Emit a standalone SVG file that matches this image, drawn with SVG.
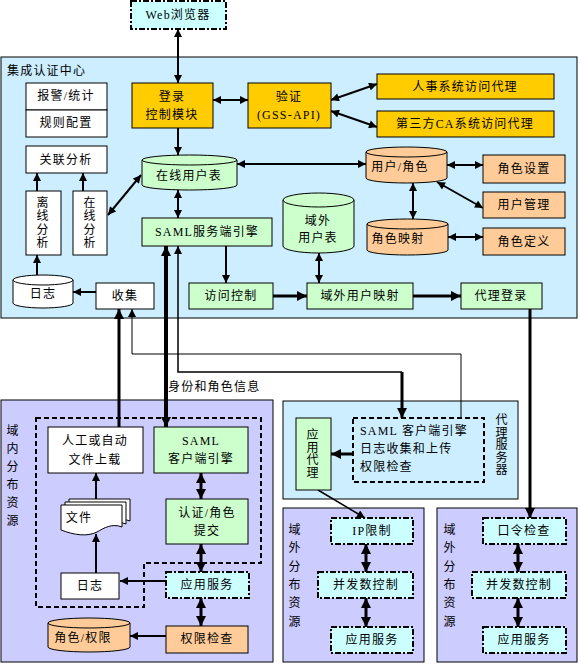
<svg xmlns="http://www.w3.org/2000/svg" width="581" height="665" viewBox="0 0 581 665">
<style>
.t{font-family:"Liberation Serif","Noto Sans CJK SC",serif;font-size:12px;letter-spacing:1.2px;text-anchor:middle;dominant-baseline:central;fill:#000}
.s{text-anchor:start}
.b{stroke:#000;stroke-width:1}
.gold{fill:#ffcc00}
.peach{fill:#ffcc99}
.green{fill:#ccffcc}
.cyan{fill:#ccffff}
.white{fill:#fff}
.dd{stroke:#000;stroke-width:2;stroke-dasharray:6,2,2,2}
.dash{fill:none;stroke:#000;stroke-width:2;stroke-dasharray:5,3}
.c{fill:none;stroke:#000;stroke-width:2}
.c3{fill:none;stroke:#000;stroke-width:3}
.c4{fill:none;stroke:#000;stroke-width:4}
.c1{fill:none;stroke:#000;stroke-width:1}
.c15{fill:none;stroke:#000;stroke-width:1.5}
.e{marker-end:url(#a)}
.bo{marker-start:url(#a);marker-end:url(#a)}
.eB{marker-end:url(#A)}
.boB{marker-start:url(#A);marker-end:url(#A)}
</style>
<defs>
<marker id="a" viewBox="0 0 10 10" refX="10" refY="5" markerWidth="9" markerHeight="8" markerUnits="userSpaceOnUse" orient="auto-start-reverse"><path d="M0,0 L10,5 L0,10 z" fill="#000"/></marker>
<marker id="A" viewBox="0 0 10 10" refX="10" refY="5" markerWidth="10" markerHeight="10" markerUnits="userSpaceOnUse" orient="auto-start-reverse"><path d="M0,0 L10,5 L0,10 z" fill="#000"/></marker>
</defs>

<!-- panels -->
<g id="panel-center">
<rect x="1" y="57" width="576" height="261" fill="#cceeff" class="b"/>
<text class="t s" x="7" y="71">集成认证中心</text>
</g>
<g id="panel-inner">
<rect x="1" y="400" width="272" height="262" fill="#ccccff" class="b"/>
<text class="t"><tspan x="13" y="431">域</tspan><tspan x="13" y="449">内</tspan><tspan x="13" y="467">分</tspan><tspan x="13" y="485">布</tspan><tspan x="13" y="503">资</tspan><tspan x="13" y="521">源</tspan></text>
<path d="M36,418 H261 V563 H144 V607 H36 Z" class="dash"/>
</g>
<g id="panel-proxy">
<rect x="283" y="401" width="235" height="98" fill="#cceeff" class="b"/>
<text class="t"><tspan x="502" y="420">代</tspan><tspan x="502" y="432.5">理</tspan><tspan x="502" y="445">服</tspan><tspan x="502" y="457.5">务</tspan><tspan x="502" y="470">器</tspan></text>
</g>
<g id="panel-outer1">
<rect x="283" y="508" width="141" height="154" fill="#ccccff" class="b"/>
<text class="t"><tspan x="295" y="530">域</tspan><tspan x="295" y="548">外</tspan><tspan x="295" y="567">分</tspan><tspan x="295" y="585">布</tspan><tspan x="295" y="603">资</tspan><tspan x="295" y="622">源</tspan></text>
</g>
<g id="panel-outer2">
<rect x="437" y="508" width="140" height="154" fill="#ccccff" class="b"/>
<text class="t"><tspan x="450" y="530">域</tspan><tspan x="450" y="548">外</tspan><tspan x="450" y="567">分</tspan><tspan x="450" y="585">布</tspan><tspan x="450" y="603">资</tspan><tspan x="450" y="622">源</tspan></text>
</g>

<!-- connectors -->
<g id="connectors">
<path d="M178,29 V83" class="c bo"/>
<path d="M213,100 H248" class="c bo"/>
<path d="M331,100 L377,84" class="c bo"/>
<path d="M331,111 L377,127" class="c bo"/>
<path d="M178,128 V155" class="c e"/>
<path d="M237,164 H366" class="c bo"/>
<path d="M447,165 H483" class="c bo"/>
<path d="M437,182 L483,208" class="c bo"/>
<path d="M413,183 V219" class="c bo"/>
<path d="M448,237 H483" class="c bo"/>
<path d="M319,253 V283" class="c bo"/>
<path d="M178,190 V218" class="c bo"/>
<path d="M226,246 V283" class="c e"/>
<path d="M273,296 H307" class="c3 eB"/>
<path d="M413,296 H461" class="c3 eB"/>
<path d="M141,175 L108,215" class="c bo"/>
<path d="M37,191 V173" class="c e"/>
<path d="M83,191 V173" class="c e"/>
<path d="M37,275 V255" class="c e"/>
<path d="M96,292 H73" class="c e"/>
<path d="M119,427 V309" class="c3 eB"/>
<path d="M461,418 V354 H132 V309" class="c1 e"/>
<path d="M166,246 V427" class="c4 boB"/>
<path d="M178,246 V372 H402" class="c15" marker-start="url(#a)"/>
<path d="M402,372 V418" class="c3 eB"/>
<path d="M201,473 V499" class="c3 boB"/>
<path d="M201,544 V572" class="c3 boB"/>
<path d="M166,581 H120" class="c e"/>
<path d="M96,573 V534" class="c e"/>
<path d="M96,500 V473" class="c e"/>
<path d="M201,598 V626" class="c3 boB"/>
<path d="M166,636 H130" class="c e"/>
<path d="M353,454 H331" class="c3 eB"/>
<path d="M318,490 L365,518" class="c15 e"/>
<path d="M530,309 V518" class="c3 eB"/>
<path d="M366,544 V572" class="c3 boB"/>
<path d="M366,598 V627" class="c3 boB"/>
<path d="M518,544 V572" class="c3 boB"/>
<path d="M518,598 V627" class="c3 boB"/>
<text class="t s" x="168" y="387">身份和角色信息</text>
</g>

<!-- nodes -->
<g id="web"><rect x="131" y="1" width="95" height="28" class="cyan dd"/><text class="t" x="178" y="15">Web浏览器</text></g>
<g id="alarm"><rect x="26" y="83" width="81" height="27" class="white b"/><text class="t" x="66" y="96">报警/统计</text></g>
<g id="rules"><rect x="26" y="110" width="81" height="27" class="white b"/><text class="t" x="66" y="123">规则配置</text></g>
<g id="assoc"><rect x="26" y="146" width="81" height="27" class="white b"/><text class="t" x="66" y="160">关联分析</text></g>
<g id="offline"><rect x="26" y="191" width="35" height="64" class="white b"/><text class="t"><tspan x="43" y="203">离</tspan><tspan x="43" y="216.3">线</tspan><tspan x="43" y="229.7">分</tspan><tspan x="43" y="243">析</tspan></text></g>
<g id="online"><rect x="73" y="191" width="34" height="64" class="white b"/><text class="t"><tspan x="90" y="203">在</tspan><tspan x="90" y="216.3">线</tspan><tspan x="90" y="229.7">分</tspan><tspan x="90" y="243">析</tspan></text></g>
<g id="login"><rect x="132" y="83" width="81" height="45" class="gold b"/><text class="t" x="172" y="97">登录</text><text class="t" x="172" y="115">控制模块</text></g>
<g id="verify"><rect x="248" y="83" width="83" height="45" class="gold b"/><text class="t" x="289" y="97">验证</text><text class="t" x="289" y="115">(GSS-API)</text></g>
<g id="hr"><rect x="377" y="74" width="177" height="25" class="gold b"/><text class="t" x="465" y="87">人事系统访问代理</text></g>
<g id="ca"><rect x="377" y="111" width="177" height="26" class="gold b"/><text class="t" x="465" y="124">第三方CA系统访问代理</text></g>
<g id="onlinetable">
<path d="M142,160 V185 A47.5,5 0 0 0 237,185 V160 Z" class="green b"/>
<ellipse cx="189.5" cy="160" rx="47.5" ry="5" class="green b"/>
<text class="t" x="189" y="176">在线用户表</text></g>
<g id="userrole">
<path d="M366,152 V178 A40.5,5 0 0 0 447,178 V152 Z" class="peach b"/>
<ellipse cx="406.5" cy="152" rx="40.5" ry="5" class="peach b"/>
<text class="t" x="400" y="167">用户/角色</text></g>
<g id="roleset"><rect x="483" y="155" width="82" height="28" class="peach b"/><text class="t" x="524" y="169">角色设置</text></g>
<g id="usermgr"><rect x="483" y="192" width="82" height="26" class="peach b"/><text class="t" x="524" y="205">用户管理</text></g>
<g id="rolemap">
<path d="M367,224 V250 A40.5,5 0 0 0 448,250 V224 Z" class="peach b"/>
<ellipse cx="407.5" cy="224" rx="40.5" ry="5" class="peach b"/>
<text class="t" x="398" y="239">角色映射</text></g>
<g id="roledef"><rect x="483" y="228" width="82" height="27" class="peach b"/><text class="t" x="524" y="242">角色定义</text></g>
<g id="extable">
<path d="M283,200 V246 A35.5,7 0 0 0 354,246 V200 Z" class="green b"/>
<ellipse cx="318.5" cy="200" rx="35.5" ry="7" class="green b"/>
<text class="t" x="318" y="221">域外</text><text class="t" x="318" y="238">用户表</text></g>
<g id="samlserver"><rect x="142" y="218" width="130" height="28" class="green b"/><text class="t" x="207" y="232">SAML服务端引擎</text></g>
<g id="access"><rect x="189" y="283" width="84" height="26" class="green b"/><text class="t" x="231" y="296">访问控制</text></g>
<g id="exmap"><rect x="307" y="283" width="106" height="26" class="green b"/><text class="t" x="360" y="296">域外用户映射</text></g>
<g id="proxylogin"><rect x="461" y="283" width="81" height="26" class="green b"/><text class="t" x="501" y="296">代理登录</text></g>
<g id="log1">
<path d="M13,280 V303 A30,5 0 0 0 73,303 V280 Z" class="white b"/>
<ellipse cx="43" cy="280" rx="30" ry="5" class="white b"/>
<text class="t" x="43" y="294">日志</text></g>
<g id="collect"><rect x="96" y="283" width="58" height="26" class="white b"/><text class="t" x="125" y="296">收集</text></g>

<g id="upload"><rect x="48" y="427" width="95" height="46" class="white b"/><text class="t" x="95" y="441">人工或自动</text><text class="t" x="95" y="460">文件上载</text></g>
<g id="samlclient"><rect x="154" y="427" width="94" height="46" class="green b"/><text class="t" x="201" y="441">SAML</text><text class="t" x="201" y="459">客户端引擎</text></g>
<g id="authsubmit"><rect x="166" y="499" width="82" height="45" class="green b"/><text class="t" x="207" y="513">认证/角色</text><text class="t" x="207" y="531">提交</text></g>
<g id="app1"><rect x="166" y="572" width="83" height="26" class="cyan dd"/><text class="t" x="207" y="585">应用服务</text></g>
<g id="log2"><rect x="61" y="573" width="58" height="26" class="white b"/><text class="t" x="90" y="586">日志</text></g>
<g id="files">
<path d="M69,499 H130 V521 C120,517 112,522 105,526 C95,531 82,529 69,524 Z" class="white b"/>
<path d="M65,502 H126 V524 C116,520 108,525 101,529 C91,534 78,532 65,527 Z" class="white b"/>
<path d="M61,505 H122 V527 C112,523 104,528 97,532 C87,537 74,535 61,530 Z" class="white b"/>
<text class="t" x="79" y="518">文件</text></g>
<g id="permcheck"><rect x="166" y="626" width="82" height="27" class="peach b"/><text class="t" x="207" y="639">权限检查</text></g>
<g id="roleperm">
<path d="M48,623 V647 A41,5 0 0 0 130,647 V623 Z" class="peach b"/>
<ellipse cx="89" cy="623" rx="41" ry="5" class="peach b"/>
<text class="t" x="83" y="638">角色/权限</text></g>

<g id="proxyengine"><rect x="353" y="418" width="131" height="64" class="dash"/><text class="t s" x="360" y="431">SAML 客户端引擎</text><text class="t s" x="360" y="449">日志收集和上传</text><text class="t s" x="360" y="467">权限检查</text></g>
<g id="appproxy"><rect x="296" y="418" width="35" height="72" class="green b"/><text class="t"><tspan x="313" y="435">应</tspan><tspan x="313" y="447.5">用</tspan><tspan x="313" y="460">代</tspan><tspan x="313" y="472.5">理</tspan></text></g>

<g id="iplimit"><rect x="331" y="518" width="82" height="26" class="cyan dd"/><text class="t" x="372" y="531">IP限制</text></g>
<g id="conc1"><rect x="318" y="572" width="95" height="26" class="cyan dd"/><text class="t" x="366" y="585">并发数控制</text></g>
<g id="app2"><rect x="331" y="627" width="82" height="26" class="cyan dd"/><text class="t" x="372" y="640">应用服务</text></g>
<g id="pwcheck"><rect x="483" y="518" width="83" height="26" class="cyan dd"/><text class="t" x="524" y="531">口令检查</text></g>
<g id="conc2"><rect x="472" y="572" width="94" height="26" class="cyan dd"/><text class="t" x="519" y="585">并发数控制</text></g>
<g id="app3"><rect x="483" y="627" width="83" height="26" class="cyan dd"/><text class="t" x="524" y="640">应用服务</text></g>
</svg>
